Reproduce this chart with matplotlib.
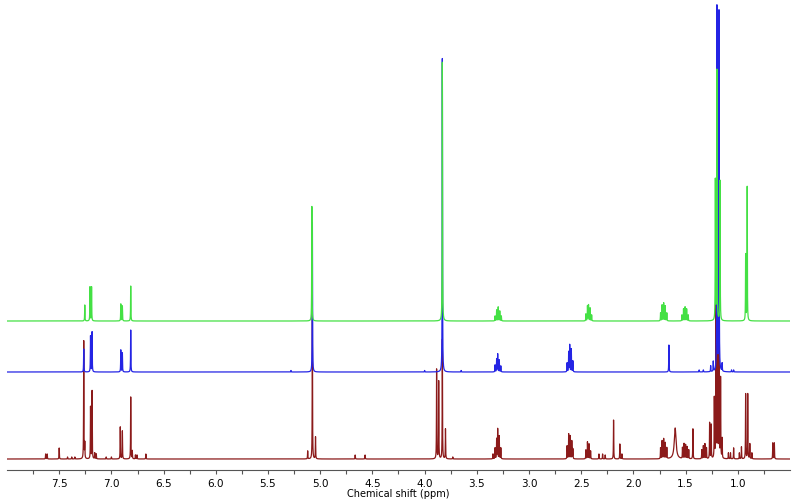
import numpy as np
import matplotlib
matplotlib.use('Agg')
import matplotlib.pyplot as plt

# peak lists: (ppm, height) per trace, heights in px above own baseline
red_ppm = [7.63, 7.615, 7.50, 7.42, 7.38, 7.35, 7.265, 7.255, 7.20, 7.185, 7.16, 7.145,
           7.05, 7.00, 6.915, 6.895, 6.815, 6.80, 6.77, 6.755, 6.67, 5.12, 5.075, 5.045,
           4.665, 4.57, 3.885, 3.865, 3.83, 3.80, 3.73, 3.345, 3.325, 3.31, 3.30, 3.285, 3.27,
           2.635, 2.62, 2.605, 2.59, 2.58, 2.455, 2.44, 2.425, 2.41, 2.33, 2.295, 2.27,
           2.19, 2.13, 2.11, 1.74, 1.725, 1.71, 1.695, 1.68, 1.60, 1.53, 1.515, 1.50, 1.485,
           1.47, 1.43, 1.345, 1.33, 1.315, 1.30, 1.27, 1.255, 1.225, 1.21, 1.195, 1.18, 1.165,
           1.15, 1.09, 1.07, 1.04, 0.985, 0.965, 0.925, 0.905, 0.885, 0.865, 0.665, 0.65]
red_h = [5, 5, 11, 2, 2, 2, 118, 15, 52, 68, 6, 5,
         2, 2, 32, 28, 62, 8, 4, 4, 5, 8, 150, 22,
         4, 4, 90, 78, 120, 30, 2, 5, 11, 20, 30, 23, 11,
         13, 25, 23, 18, 10, 9, 17, 15, 8, 5, 5, 4,
         39, 15, 5, 11, 18, 20, 16, 11, 31, 11, 15, 14, 12,
         9, 30, 9, 13, 15, 11, 36, 34, 60, 170, 170, 150, 80,
         20, 6, 6, 11, 6, 12, 65, 65, 15, 6, 16, 16]

blue_ppm = [7.265, 7.20, 7.185, 6.91, 6.895, 6.815, 5.28, 5.075, 4.00, 3.83, 3.65,
            3.325, 3.31, 3.30, 3.285, 3.27, 2.635, 2.62, 2.61, 2.595, 2.58, 1.66,
            1.37, 1.33, 1.26, 1.235, 1.20, 1.18, 1.15, 1.06, 1.04]
blue_h = [23, 36, 40, 22, 19, 42, 1.5, 150, 1.5, 315, 1.5,
          7, 13, 18, 12, 6, 9, 20, 27, 23, 11, 27,
          2, 2, 6, 10, 365, 360, 8, 2, 2]

green_ppm = [7.255, 7.205, 7.19, 6.91, 6.895, 6.815, 5.08, 3.83,
             3.325, 3.31, 3.295, 3.28, 3.265, 2.455, 2.44, 2.43, 2.415, 2.40,
             1.74, 1.725, 1.71, 1.695, 1.68, 1.535, 1.52, 1.505, 1.49, 1.475,
             1.215, 1.20, 1.17, 0.925, 0.91]
green_h = [16, 34, 34, 17, 15, 35, 115, 260,
           5, 11, 14, 10, 5, 7, 15, 16, 13, 6,
           8, 16, 18, 15, 8, 6, 12, 14, 12, 6,
           140, 250, 140, 66, 134]

offsets = {'red': 0, 'blue': 87, 'green': 138}
colors = {'red': '#8b1a1a', 'blue': '#2424e4', 'green': '#44e044'}

x = np.linspace(8.0, 0.5, 30000)

def spectrum(ppm, h, w=0.0016):
    y = np.zeros_like(x)
    for p, a in zip(ppm, h):
        ww = 0.01 if a == 31 and abs(p - 1.60) < 1e-6 else w
        y += a / (1 + ((x - p) / ww) ** 2)
    return y

fig = plt.figure(figsize=(7.94, 5.02), dpi=100)
ax = fig.add_axes([7/794, 31/502, 783/794, 471/502])

ax.plot(x, spectrum(red_ppm, red_h) + offsets['red'], color=colors['red'], lw=0.9)
ax.plot(x, spectrum(blue_ppm, blue_h) + offsets['blue'], color=colors['blue'], lw=0.9)
ax.plot(x, spectrum(green_ppm, green_h) + offsets['green'], color=colors['green'], lw=0.9)

ax.set_xlim(8.0, 0.5)
ax.set_ylim(-11, 460)
for s in ['top', 'left', 'right']:
    ax.spines[s].set_visible(False)
ax.spines['bottom'].set_color('#555555')
ax.spines['bottom'].set_linewidth(0.8)
ax.set_yticks([])
ax.set_xticks(np.arange(7.5, 0.9, -0.5))
ax.set_xticks(np.arange(7.75, 0.5, -0.25), minor=True)
ax.tick_params(axis='x', which='both', length=3, width=0.8, color='#555555',
               labelsize=7.5, pad=3)
ax.set_xlabel('Chemical shift (ppm)', fontsize=7, labelpad=0)

fig.savefig('out.png', dpi=100)
